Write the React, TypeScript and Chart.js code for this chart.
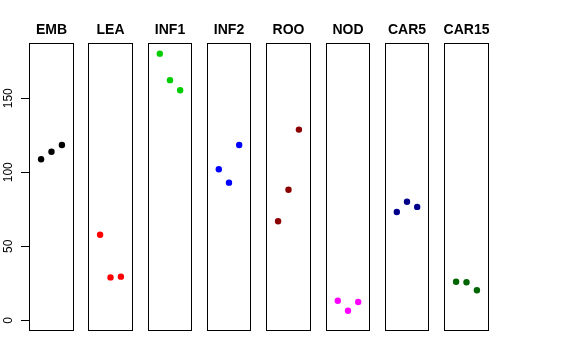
import React, { useEffect, useRef } from "react";
import { Chart, registerables } from "chart.js";
Chart.register(...registerables);

const panelNames = ["EMB", "LEA", "INF1", "INF2", "ROO", "NOD", "CAR5", "CAR15"];
const replicates = [1, 2, 3];
const EMB = [108.8, 113.9, 118.4];
const LEA = [57.8, 29.0, 29.5];
const INF1 = [180.1, 162.2, 155.4];
const INF2 = [102.0, 93.0, 118.4];
const ROO = [66.9, 88.2, 128.8];
const NOD = [13.2, 6.5, 12.4];
const CAR5 = [73.2, 80.1, 76.6];
const CAR15 = [26.1, 25.7, 20.3];
const seriesValues = [EMB, LEA, INF1, INF2, ROO, NOD, CAR5, CAR15];
const panelColors = ["#000000", "#FF0000", "#00CD00", "#0000FF", "#8B0000", "#FF00FF", "#00008B", "#006400"];
const yTicks = [0, 50, 100, 150];

const FONT = "'Liberation Sans', Arial, Helvetica, sans-serif";
const yMaxData = Math.max(...seriesValues.flat());
const yMin = 0 - 0.04 * yMaxData;
const yMax = yMaxData * 1.04;
const xMin = 0 - 0.04 * 4;
const xMax = 4 + 0.04 * 4;

const PANEL_TOP = 43;
const PANEL_BOTTOM = 331;
const FIRST_LEFT = 29;
const STEP = 59.3;
const PANEL_W = 44.5;
const AXIS_W = 29;
const SIDE = 10;

const boxAndTitle = {
  id: "boxAndTitle",
  afterDraw(chart: any, _args: any, opts: any) {
    const { ctx, chartArea } = chart;
    const l = Math.round(chartArea.left) + 0.5;
    const t = Math.round(chartArea.top) + 0.5;
    const r = Math.round(chartArea.right) - 0.5;
    const b = Math.round(chartArea.bottom) - 0.5;
    ctx.save();
    ctx.strokeStyle = "#000";
    ctx.lineWidth = 1;
    ctx.strokeRect(l, t, r - l, b - t);
    ctx.fillStyle = "#000";
    ctx.font = "bold 14px " + FONT;
    ctx.textAlign = "center";
    ctx.textBaseline = "alphabetic";
    ctx.fillText(opts.text, (chartArea.left + chartArea.right) / 2, chartArea.top - 9);
    ctx.restore();
  },
};

function Panel({ idx }: { idx: number }) {
  const ref = useRef<HTMLCanvasElement>(null);
  const panelLeft = Math.round(FIRST_LEFT + idx * STEP);
  const panelRight = Math.round(FIRST_LEFT + idx * STEP + PANEL_W);
  const canvasLeft = idx === 0 ? 0 : panelLeft - SIDE;
  const canvasW = panelRight + SIDE - canvasLeft;

  useEffect(() => {
    if (!ref.current) return;
    const yScale: any = {
      type: "linear",
      display: idx === 0,
      position: "left",
      min: yMin,
      max: yMax,
      afterBuildTicks: (s: any) => {
        s.ticks = yTicks.map((v) => ({ value: v }));
      },
      ticks: {
        minRotation: 90,
        maxRotation: 90,
        crossAlign: "center",
        padding: 2,
        color: "#000",
        font: { size: 12, family: FONT },
      },
      grid: {
        drawOnChartArea: false,
        tickLength: 8,
        color: "#000",
        tickColor: "#000",
      },
      border: { display: false },
    };
    if (idx === 0) {
      yScale.afterFit = (s: any) => {
        s.width = AXIS_W;
      };
    }
    const chart = new Chart(ref.current, {
      type: "scatter",
      data: {
        datasets: [
          {
            data: replicates.map((x, i) => ({ x, y: seriesValues[idx][i] })),
            backgroundColor: panelColors[idx],
            borderColor: panelColors[idx],
            pointRadius: 3.2,
            pointHoverRadius: 3.2,
            borderWidth: 0,
          },
        ],
      },
      options: {
        responsive: false,
        animation: false,
        events: [],
        layout: {
          padding: {
            left: idx === 0 ? 0 : SIDE,
            right: SIDE,
            top: PANEL_TOP,
            bottom: 360 - PANEL_BOTTOM,
          },
        },
        plugins: {
          legend: { display: false },
          tooltip: { enabled: false },
          title: { display: false },
          boxAndTitle: { text: panelNames[idx] },
        } as any,
        scales: {
          x: { type: "linear", display: false, min: xMin, max: xMax },
          y: yScale,
        },
      },
      plugins: [boxAndTitle],
    });
    return () => chart.destroy();
  }, [idx]);

  return (
    <canvas
      ref={ref}
      width={canvasW}
      height={360}
      style={{ position: "absolute", left: canvasLeft, top: 0, width: canvasW, height: 360 }}
    />
  );
}

export default function App() {
  return (
    <div
      style={{
        position: "fixed",
        left: 0,
        top: 0,
        width: 576,
        height: 360,
        background: "#fff",
        overflow: "hidden",
      }}
    >
      {panelNames.map((_, i) => (
        <Panel key={i} idx={i} />
      ))}
    </div>
  );
}
